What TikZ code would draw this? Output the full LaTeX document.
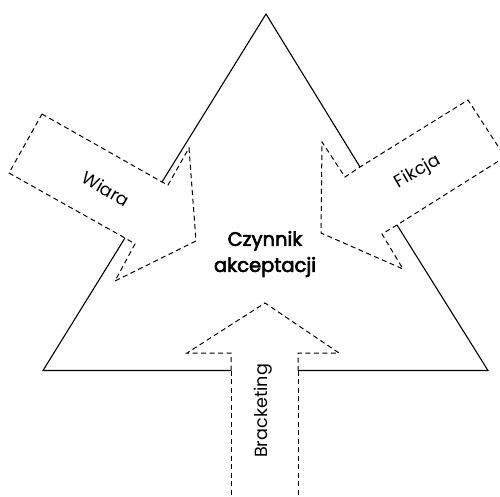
\documentclass[tikz,border=0pt]{standalone}
\usepackage{fontspec}
\setmainfont{Poppins}
\newfontfamily\mediumfont[FakeBold=3]{Poppins}
\begin{document}
\begin{tikzpicture}[x=1pt,y=-1pt,
  edge/.style={line width=1.1pt,line join=miter},
  outline/.style={line width=1pt,dash pattern=on 5pt off 3.5pt,line join=miter},
  label/.style={font=\fontsize{17.6}{20}\selectfont,inner sep=0pt},
  core/.style={font=\mediumfont\fontsize{19.5}{26}\selectfont,align=center,inner sep=0pt}]
  \useasboundingbox (0,0) rectangle (500,497);
  \clip (0,0) rectangle (500,497);

  % corners of the triangle and the gaps where the arrows cut through it
  \coordinate (apex) at (266,14);
  \coordinate (bl) at (43,370.5);
  \coordinate (br) at (488,370.5);
  \coordinate (l1) at (162,182);
  \coordinate (l2) at (125,238);
  \coordinate (r1) at (360,167);
  \coordinate (r2) at (397,225);
  \coordinate (b1) at (231,370.5);
  \coordinate (b2) at (298,370.5);

  % triangle sides, broken where the arrows enter
  \draw[edge] (l1) -- (apex) -- (r1);
  \draw[edge] (r2) -- (br) -- (b2);
  \draw[edge] (b1) -- (bl) -- (l2);

  % left arrow
  \draw[outline] (42,114) -- (l1) -- (168,185) -- (189,148) -- (196,241)
    -- (115,281) -- (135,244) -- (l2) -- (9,173) -- cycle;

  % right arrow
  \draw[outline] (505,157) -- (r2) -- (382,234) -- (403,269) -- (321,233)
    -- (322,142) -- (345,177) -- (r1) -- (468,100) -- cycle;

  % bottom arrow
  \draw[outline] (b1) -- (231,510);
  \draw[outline] (b2) -- (298,510);
  \draw[outline] (b1) -- (231,353) -- (187,353) -- (265,303) -- (339,353)
    -- (298,353) -- (b2);

  % labels
  \node[core] (czynnik) at (265,254) {Czynnik\\akceptacji};
  \node[label,rotate=-30] (wiara) at (106,189) {Wiara};
  \node[label,rotate=30] (fikcja) at (418,172) {Fikcja};
  \node[label,rotate=90] (bracketing) at (263,411) {Bracketing};
\end{tikzpicture}
\end{document}
